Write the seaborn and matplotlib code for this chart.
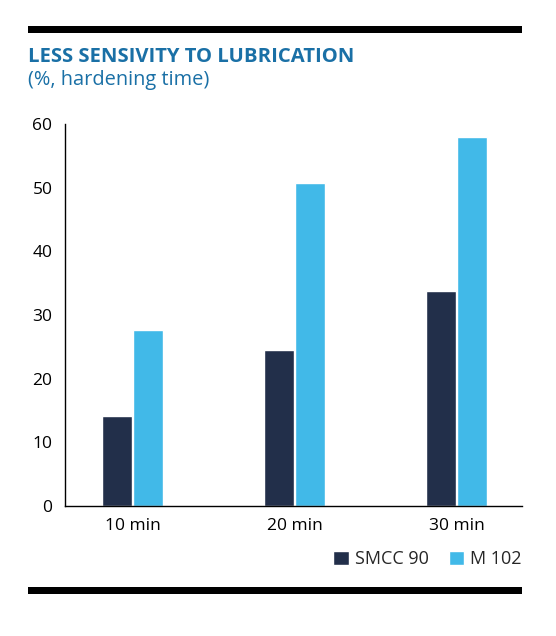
import matplotlib
matplotlib.use("Agg")
import pandas as pd
import seaborn as sns
import matplotlib.pyplot as plt
from matplotlib.patches import Patch, Rectangle

# Data
times = ['10 min', '20 min', '30 min']
smcc_90 = [14.1, 24.5, 33.8]
m_102 = [27.6, 50.8, 58.0]
y_ticks = [0, 10, 20, 30, 40, 50, 60]

dark = '#222f4a'
light = '#41b9e8'
title_blue = '#1a70a6'

df = pd.DataFrame({
    'time': times * 2,
    'value': smcc_90 + m_102,
    'series': ['SMCC 90'] * 3 + ['M 102'] * 3,
})

sns.set_style('white')
plt.rcParams['font.family'] = ['Open Sans', 'DejaVu Sans']

fig = plt.figure(figsize=(5.56, 6.36), dpi=100)
ax = fig.add_axes([0.1169, 0.205, 0.8219, 0.5996])

sns.barplot(data=df, x='time', y='value', hue='series',
            palette=[dark, light], width=0.39, gap=0.06,
            legend=False, ax=ax, saturation=1)

ax.set_xlim(-0.417, 2.404)
ax.set_ylim(0, 60)
ax.set_yticks(y_ticks)
ax.set_xlabel('')
ax.set_ylabel('')

for side in ['top', 'right']:
    ax.spines[side].set_visible(False)
for side in ['left', 'bottom']:
    ax.spines[side].set_color('black')
    ax.spines[side].set_linewidth(1.0)

ax.tick_params(axis='y', direction='in', length=11, width=1.0,
               color='black', pad=9, labelsize=12.5, labelcolor='black')
ax.tick_params(axis='x', length=0, pad=9, labelsize=12.5, labelcolor='black')
for lbl in ax.get_yticklabels():
    lbl.set_horizontalalignment('right')

# Title and subtitle
fig.text(28 / 556, 1 - 62 / 636, 'LESS SENSIVITY TO LUBRICATION',
         fontsize=14.6, fontweight='bold', color=title_blue, va='baseline')
fig.text(28 / 556, 1 - 85 / 636, '(%, hardening time)',
         fontsize=14.4, color=title_blue, va='baseline')

# Black rules at top and bottom
fig.add_artist(Rectangle((28 / 556, 1 - 33 / 636), (522 - 28) / 556, 7 / 636,
                         transform=fig.transFigure, color='black', lw=0))
fig.add_artist(Rectangle((28 / 556, 1 - 594 / 636), (522 - 28) / 556, 7 / 636,
                         transform=fig.transFigure, color='black', lw=0))

# Legend
handles = [Patch(facecolor=dark, label='SMCC 90'),
           Patch(facecolor=light, label='M 102')]
fig.legend(handles=handles, loc='center right',
           bbox_to_anchor=(522 / 556, 1 - 559 / 636), ncol=2, frameon=False,
           fontsize=13, handlelength=0.85, handleheight=0.85,
           handletextpad=0.35, columnspacing=1.1, borderpad=0,
           borderaxespad=0)

fig.savefig('out.png', dpi=100)
